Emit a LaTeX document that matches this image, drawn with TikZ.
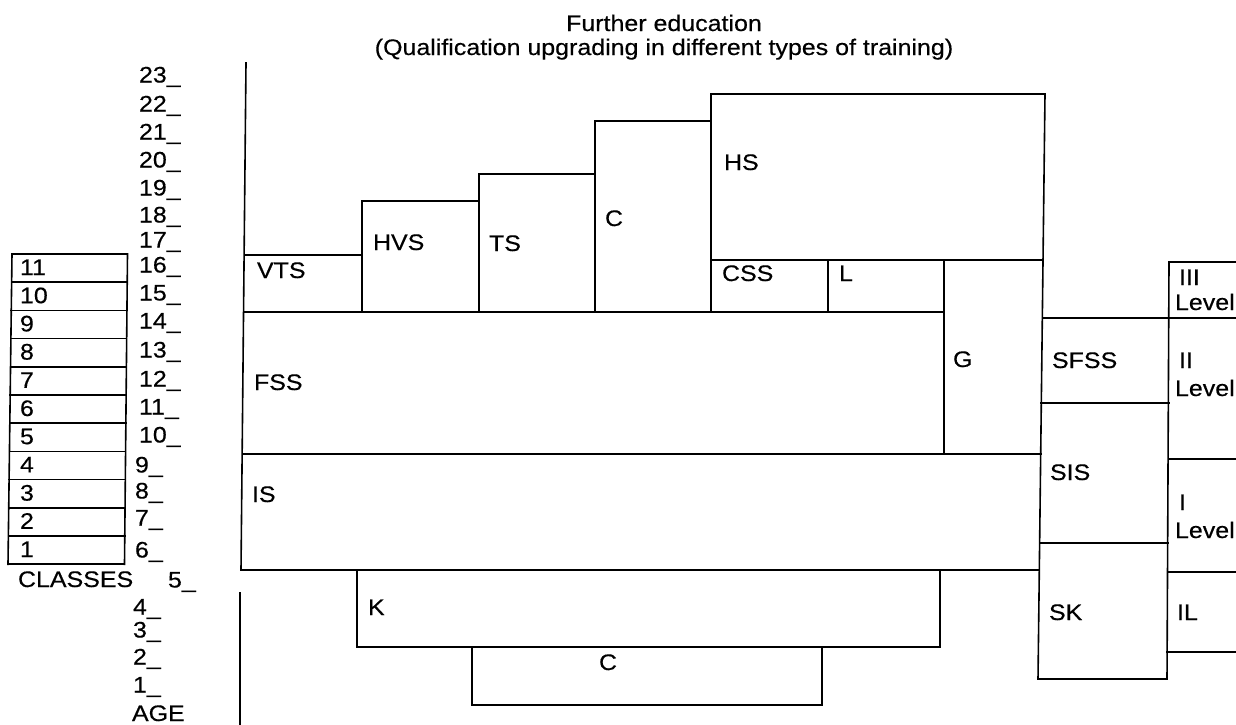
\documentclass[tikz,border=0pt]{standalone}
\usepackage{fontspec}
\setmainfont[FakeStretch=1.11,FakeBold=0.4]{Liberation Sans}
\begin{document}
\begin{tikzpicture}[x=1pt,y=-1pt,
  rule/.style={line width=1.6pt, line cap=rect, line join=miter},
  lbl/.style={anchor=base west, inner sep=0pt, outer sep=0pt},
  ctr/.style={anchor=base, inner sep=0pt, outer sep=0pt},
  every node/.append style={font=\fontsize{22.5}{26}\selectfont}]
\useasboundingbox (0,0) rectangle (1236,724);

% title
\node[ctr] (title1) at (664,31) {Further education};
\node[ctr] (title2) at (664,55) {(Qualification upgrading in different types of training)};

% age axis: upper part runs on as the left side of the school blocks
\draw[rule] (246,63) -- (241,570) -- (1039,570);
\draw[rule] (240,593) -- (240,724);

% upper tier of institutions
\draw[rule] (245.3,255) -- (362,255) -- (362,312);
\draw[rule] (362,312) |- (479,201) -- (479,312);
\draw[rule] (479,312) |- (595,174) -- (595,312);
\draw[rule] (595,312) |- (711,121) -- (711,312);
\draw[rule] (711,260) |- (1045,94);
\draw[rule] (711,260) -- (1043,260);
\draw[rule] (828,260) -- (828,312);
\draw[rule] (944,260) -- (944,454);
\draw[rule] (244.8,312) -- (944,312);

% general schools
\draw[rule] (243.5,454) -- (1041,454);
\draw[rule] (357,570) rectangle (940,647);
\draw[rule] (472,647) rectangle (822,705);

% right-hand edge shared by HS, G, IS and the special schools
\draw[rule] (1045,94) -- (1038,679);

% special schools
\draw[rule] (1044,318) -- (1236,318);
\draw[rule] (1041,403) -- (1169,403);
\draw[rule] (1040,543) -- (1168,543);
\draw[rule] (1236,262) -- (1169,262) -- (1167,679) -- (1038,679);

% levels column (open to the right)
\draw[rule] (1169,459) -- (1236,459);
\draw[rule] (1168,572) -- (1236,572);
\draw[rule] (1167,652) -- (1236,652);

% labels of institutions
\node[lbl] (vts)  at (257,278) {VTS};
\node[lbl] (hvs)  at (373,250) {HVS};
\node[lbl] (ts)   at (489,251) {TS};
\node[lbl] (cu)   at (605,226) {C};
\node[lbl] (hs)   at (724,170) {HS};
\node[lbl] (css)  at (722,281) {CSS};
\node[lbl] (l)    at (839,281) {L};
\node[lbl] (fss)  at (254,390) {FSS};
\node[lbl] (g)    at (953,367) {G};
\node[lbl] (is)   at (252,502) {IS};
\node[lbl] (k)    at (368,615) {K};
\node[ctr] (cl)   at (608,670) {C};
\node[lbl] (sfss) at (1052,368) {SFSS};
\node[lbl] (sis)  at (1050,480) {SIS};
\node[lbl] (sk)   at (1049,620) {SK};

\node[lbl] (l3a) at (1179,285) {III};
\node[lbl] (l3b) at (1175,310) {Level};
\node[lbl] (l2a) at (1179,368) {II};
\node[lbl] (l2b) at (1175,396) {Level};
\node[lbl] (l1a) at (1179,510) {I};
\node[lbl] (l1b) at (1175,538) {Level};
\node[lbl] (il)  at (1177,620) {IL};

% classes
\draw[rule] (12,254) -- (8,564.2);
\draw[rule] (127.5,254) -- (124.5,564.2);
\foreach \k in {0,...,11}{
  \pgfmathsetmacro{\yy}{254+\k*28.2}
  \pgfmathsetmacro{\xl}{12-4*\k/11}
  \pgfmathsetmacro{\xr}{127.5-3*\k/11}
  \draw[rule] (\xl,\yy) -- (\xr,\yy);
}
\foreach \k in {1,...,11}{
  \pgfmathsetmacro{\ytop}{254+(11-\k)*28.2}
  \node[lbl] (cls\k) at (20,\ytop+21) {\k};
}
\node[lbl] (classes) at (18,587) {CLASSES};

% ages
\foreach \a/\yc in {23/75,22/104,21/132,20/160,19/188,18/215,17/240,16/265,
                    15/293,14/321,13/350,12/379,11/407,10/435}{
  \node[lbl] (age\a) at (139,\yc+7.5) {\a\_};
}
\foreach \a/\yc in {9/465,8/491,7/518,6/550}{
  \node[lbl] (age\a) at (135,\yc+7.5) {\a\_};
}
\node[lbl] (age5) at (168,587.5) {5\_};
\foreach \a/\yc in {4/607,3/630,2/657,1/685}{
  \node[lbl] (age\a) at (133,\yc+7.5) {\a\_};
}
\node[lbl] (age) at (132,721) {AGE};
\end{tikzpicture}
\end{document}
